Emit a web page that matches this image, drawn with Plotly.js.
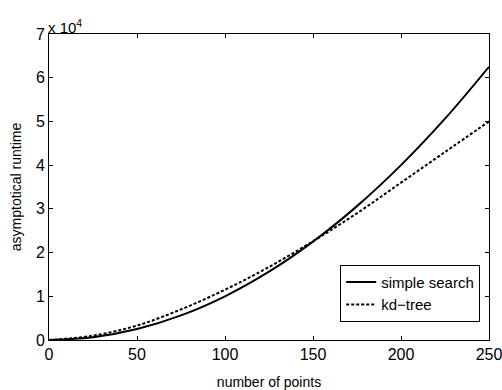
<!DOCTYPE html>
<html>
<head>
<meta charset="utf-8">
<script src="https://cdn.plot.ly/plotly-3.0.1.min.js"></script>
<style>html,body{margin:0;padding:0;background:#fff;overflow:hidden;}#chart{width:502px;height:390px;}</style>
</head>
<body>
<div id="chart"></div>
<script>
const numPoints = [0, 25, 50, 75, 100, 125, 150, 175, 200, 225, 250];
const simpleSearch = [0, 625, 2500, 5625, 10000, 15625, 22500, 30625, 40000, 50625, 62500];
const kdTree = [0, 1000, 3300, 7000, 11500, 16700, 22600, 29000, 36000, 43000, 50000];
const yTickVals = [0, 10000, 20000, 30000, 40000, 50000, 60000, 70000];
const yTickText = ['0', '1', '2', '3', '4', '5', '6', '7'];
const xTickVals = [0, 50, 100, 150, 200, 250];

const font = 'Liberation Sans, Arial, Helvetica, sans-serif';
const traces = [
  {x: numPoints, y: simpleSearch, type: 'scatter', mode: 'lines', name: 'simple search',
   line: {color: '#000', width: 2, shape: 'spline'}},
  {x: numPoints, y: kdTree, type: 'scatter', mode: 'lines', name: 'kd\u2212tree',
   line: {color: '#000', width: 2, dash: '3px,2px', shape: 'spline'}}
];
const axisCommon = {
  showline: true, linecolor: '#000', linewidth: 1, mirror: 'ticks',
  ticks: 'inside', ticklen: 4, tickcolor: '#000', showgrid: false, zeroline: false,
  ticklabeloverflow: 'allow',
  tickfont: {family: font, size: 16, color: '#000'}
};
const layout = {
  width: 502, height: 390,
  margin: {l: 49, r: 13, t: 34, b: 50},
  paper_bgcolor: '#fff', plot_bgcolor: '#fff',
  font: {family: font, color: '#000'},
  showlegend: true,
  legend: {x: 0.98, xanchor: 'right', y: 0.06, yanchor: 'bottom',
    bordercolor: '#000', borderwidth: 1, bgcolor: '#fff',
    font: {family: font, size: 15, color: '#000'},
    itemwidth: 30, tracegroupgap: 0},
  xaxis: Object.assign({}, axisCommon, {range: [0, 250], tickvals: xTickVals,
    title: {text: 'number of points', font: {family: font, size: 14, color: '#000'}, standoff: 16}}),
  yaxis: Object.assign({}, axisCommon, {range: [0, 70000], tickvals: yTickVals, ticktext: yTickText,
    title: {text: 'asymptotical runtime', font: {family: font, size: 14, color: '#000'}, standoff: 10}}),
  annotations: [{xref: 'paper', yref: 'paper', x: 0, y: 1, xanchor: 'left', yanchor: 'bottom',
    text: 'x 10<sup>4</sup>', showarrow: false, font: {family: font, size: 15, color: '#000'}, yshift: -4, xshift: -3}]
};
Plotly.newPlot('chart', traces, layout, {displayModeBar: false, staticPlot: true});
</script>
</body>
</html>
